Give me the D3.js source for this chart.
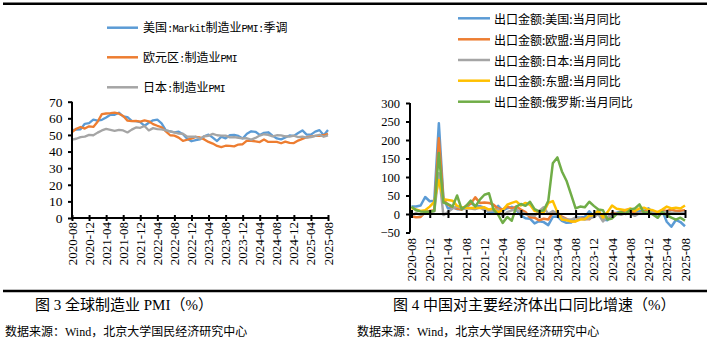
<!DOCTYPE html>
<html><head><meta charset="utf-8">
<script src="https://cdn.jsdelivr.net/npm/d3@7"></script>
<style>html,body{margin:0;padding:0;background:#fff;}svg{display:block;}</style>
</head><body>
<svg id="c" width="713" height="339"></svg>
<script>
// ---------- DATA ----------
const months = d3.range(61).map(i => { const m = 7 + i; const y = 2020 + Math.floor(m / 12); return y + "-" + String(m % 12 + 1).padStart(2, "0"); });
const tickIdx = d3.range(0, 61, 4);

const pmiNames = ["美国:Markit制造业PMI:季调", "欧元区:制造业PMI", "日本:制造业PMI"];
const pmiUS = [53.1,53.2,53.4,56.7,57.1,59.2,58.6,59.1,60.5,62.1,62.1,63.4,61.1,60.7,58.4,58.3,57.7,55.5,57.3,58.8,59.2,57.0,52.7,52.2,51.5,52.0,50.4,47.7,46.2,46.9,47.3,49.2,50.2,48.4,46.3,49.0,47.9,49.8,50.0,49.4,47.9,50.7,52.2,51.9,50.0,51.3,51.6,49.6,47.9,47.3,48.5,49.7,49.4,51.2,52.7,50.2,50.2,52.0,52.9,49.8,53.0];
const pmiEZ = [51.7,53.7,54.8,53.8,55.2,54.8,57.9,62.5,62.9,63.1,63.4,62.8,61.4,58.6,58.3,58.4,58.0,58.7,58.2,56.5,55.5,54.6,52.1,49.8,49.6,48.4,46.4,47.1,47.8,48.8,48.5,47.3,45.8,44.8,43.4,42.7,43.5,43.4,43.1,44.2,44.4,46.6,46.5,46.1,45.7,47.3,45.8,45.8,45.8,45.0,46.0,45.2,45.1,46.6,47.6,48.6,49.0,49.4,49.5,49.8,50.7];
const pmiJP = [47.2,47.7,48.7,49.0,50.0,49.8,51.4,52.7,53.6,53.0,52.4,53.0,52.7,51.5,53.2,54.5,54.3,55.4,52.7,54.1,53.5,53.3,52.7,52.1,51.5,50.8,50.7,49.0,48.9,48.9,47.7,49.2,49.5,50.6,49.8,49.6,49.6,48.5,48.7,48.3,47.9,48.0,47.2,48.2,49.6,50.4,50.0,49.1,49.8,49.7,49.2,49.0,49.6,48.7,49.0,48.4,48.7,49.4,50.1,48.9,49.7];
const pmiTicks = [0,10,20,30,40,50,60,70];

const expNames = ["出口金额:美国:当月同比", "出口金额:欧盟:当月同比", "出口金额:日本:当月同比", "出口金额:东盟:当月同比", "出口金额:俄罗斯:当月同比"];
const expUS = [20,20.5,23,46,34.5,36,245,43,15,18,13,13,15.6,30,22,21,17,3,5,22,9,15.7,19.3,11,-3.8,-11.6,-12.6,-25.4,-19.5,-22,-30,-7.7,-6.5,-18.2,-23.7,-23.1,-9.5,-9.3,-8.2,7.3,-6.9,10,-15,-16.7,2,3.6,6.6,8.1,4.9,2.2,8.1,8,15.6,2,-10,9.1,-21,-34.5,-16.1,-21.7,-33.1];
const expEU = [-6,-9,-8,5,8,10,205,38,25,18,15,12,22,28,45,30,31,30,25,15,12,20,15,20,12,5,-9,-10,-17,-13,-15,3,4,-7,-13,-20.6,-19.6,-11.6,-12.6,-14.5,-0.8,0,-5,-12,3.6,1,4,11,13,1,1,7,9,3,1,10,8,12,8,9,10];
const expJP = [-3,2,-2,1,5,8,110,-3,5,15,20,15,15,15,13,18,10,8,10,12,-6,5,10,12,5,0,-3,-5,8,18,0,8,0,-10,-15,-15,-10,-12,-15,-12,-8,0,-20,-8,0,0,-2,3,2,-5,2,3,6,5,0,5,6,4,3,2,5];
const expASEAN = [16,12,8,10,20,33,92,40,38,36,22,18,16,16,17,16,18,12,15,5,10,25,30,34,23,30,25,8,7,5,30,35,5,-15,-17,-20,-20,-15,-14,-5,-3,10,-10,5,23,14,12,10,15,8,15,17,12,10,5,12,20,15,17,15,23];
const expRU = [20,10,7,6,6,8,165,31,27,20,50,13,22,36,20,39,52,56,12,-2,-24,-8,-18,20,27,22,33,13,7,10,35,137,153,115,90,53,15,20,18,33,22,12,10,-15,-12,0,5,0,12,15,26,3,5,-2,-10,5,-3,-10,-15,-10,-18];
const expTicks = [-50,0,50,100,150,200,250,300];

const captions = ["图 3 全球制造业 PMI（%）", "图 4 中国对主要经济体出口同比增速（%）"];
const sourceText = "数据来源：Wind，北京大学国民经济研究中心";

// ---------- STYLE ----------
const colors = ["#5B9BD5", "#ED7D31", "#A5A5A5", "#FFC000", "#70AD47"];
const serif = "'Liberation Serif','Times New Roman','Noto Sans CJK SC',serif";
const cjk = "'Noto Sans CJK SC','Liberation Sans',sans-serif";

const svg = d3.select("#c");

// frame lines
svg.append("line").attr("x1", 3).attr("x2", 707).attr("y1", 3.8).attr("y2", 3.8).attr("stroke", "#000").attr("stroke-width", 2.5);
svg.append("line").attr("x1", 3).attr("x2", 707).attr("y1", 291).attr("y2", 291).attr("stroke", "#000").attr("stroke-width", 2.5);

// ---------- LEFT CHART ----------
const xL = d3.scaleLinear().domain([0, 60]).range([72, 328]);
const yL = d3.scaleLinear().domain([0, 70]).range([218, 101.7]);
const gL = svg.append("g");

[pmiUS, pmiEZ, pmiJP].forEach((s, k) => {
  gL.append("path").datum(s)
    .attr("d", d3.line().x((d, i) => xL(i)).y(d => yL(d)))
    .attr("fill", "none").attr("stroke", colors[k]).attr("stroke-width", 2.3)
    .attr("stroke-linejoin", "round");
});

// y axis
const yAxL = gL.append("g").attr("transform", `translate(${xL(0)},0)`)
  .call(d3.axisLeft(yL).tickValues(pmiTicks).tickSize(4).tickPadding(5));
yAxL.attr("font-family", serif);
yAxL.select(".domain").attr("stroke-width", 2).attr("d", `M0,${yL(0)}V${yL(70)}`);
yAxL.selectAll(".tick line").attr("stroke-width", 2);
yAxL.selectAll("text").attr("font-family", serif).attr("font-size", 13.5).attr("fill", "#000").attr("x", -9.5);

// x axis
const xAxL = gL.append("g").attr("transform", `translate(0,${yL(0)})`)
  .call(d3.axisBottom(xL).tickValues(tickIdx).tickSize(3).tickFormat(""));
xAxL.select(".domain").attr("stroke-width", 2).attr("d", `M${xL(0)},0H${xL(60)}`);
xAxL.selectAll(".tick line").attr("stroke-width", 2).attr("y1", -3).attr("y2", 3);
tickIdx.forEach(i => {
  gL.append("text").attr("transform", `translate(${xL(i)},222) rotate(-90)`)
    .attr("text-anchor", "end").attr("dominant-baseline", "central")
    .attr("font-family", serif).attr("font-size", 13).text(months[i]);
});

// left legend
const legLy = [27.7, 57.3, 87.3];
pmiNames.forEach((n, k) => {
  svg.append("line").attr("x1", 107).attr("x2", 138).attr("y1", legLy[k]).attr("y2", legLy[k])
    .attr("stroke", colors[k]).attr("stroke-width", 2.5);
  const t = svg.append("text").attr("x", 143).attr("y", legLy[k] + 4.5);
  n.split(/([\x20-\x7e]+)/).filter(p => p.length).forEach(p => {
    const ascii = /^[\x20-\x7e]+$/.test(p);
    const ts = t.append("tspan").text(p)
      .attr("font-family", ascii ? "'Liberation Mono','DejaVu Sans Mono',monospace" : cjk)
      .attr("font-size", ascii ? 10.5 : 12);
    if (ascii) ts.attr("letter-spacing", -0.8);
  });
});

// ---------- RIGHT CHART ----------
const xR = d3.scaleLinear().domain([0, 60]).range([411.5, 685]);
const yR = d3.scaleLinear().domain([-50, 300]).range([232.5, 103]);
const gR = svg.append("g");

[expUS, expEU, expJP, expASEAN, expRU].forEach((s, k) => {
  gR.append("path").datum(s)
    .attr("d", d3.line().x((d, i) => xR(i)).y(d => yR(d)))
    .attr("fill", "none").attr("stroke", colors[k]).attr("stroke-width", 2.5)
    .attr("stroke-linejoin", "round");
});

const yAxR = gR.append("g").attr("transform", `translate(410,0)`)
  .call(d3.axisLeft(yR).tickValues(expTicks).tickSize(4).tickPadding(5));
yAxR.attr("font-family", serif);
yAxR.select(".domain").attr("stroke-width", 2).attr("d", `M0,${yR(-50)}V${yR(300)}`);
yAxR.selectAll(".tick line").attr("stroke-width", 2);
yAxR.selectAll("text").attr("font-family", serif).attr("font-size", 12.5).attr("fill", "#000").attr("x", -10);

const xAxR = gR.append("g").attr("transform", `translate(0,${yR(0)})`)
  .call(d3.axisBottom(xR).tickValues(tickIdx).tickSize(4).tickFormat(""));
xAxR.select(".domain").attr("stroke-width", 2).attr("d", `M410,0H${xR(60)}`);
xAxR.selectAll(".tick line").attr("stroke-width", 2).attr("y1", -4).attr("y2", 4);
tickIdx.forEach(i => {
  gR.append("text").attr("transform", `translate(${xR(i)},238) rotate(-90)`)
    .attr("text-anchor", "end").attr("dominant-baseline", "central")
    .attr("font-family", serif).attr("font-size", 13).text(months[i]);
});

// right legend
const legRy = [18.3, 39.3, 60, 80.7, 101.7];
expNames.forEach((n, k) => {
  svg.append("line").attr("x1", 458).attr("x2", 490).attr("y1", legRy[k]).attr("y2", legRy[k])
    .attr("stroke", colors[k]).attr("stroke-width", 2.5);
  svg.append("text").attr("x", 494).attr("y", legRy[k]).attr("dominant-baseline", "central")
    .attr("font-family", cjk).attr("font-size", 12).text(n);
});

// ---------- CAPTIONS ----------
svg.append("text").attr("x", 35).attr("y", 309.5).attr("font-family", serif).attr("font-size", 15).text(captions[0]);
svg.append("text").attr("x", 393).attr("y", 309.5).attr("font-family", serif).attr("font-size", 15).text(captions[1]);
svg.append("text").attr("x", 5).attr("y", 335.5).attr("font-family", serif).attr("font-size", 12).text(sourceText);
svg.append("text").attr("x", 357).attr("y", 335.5).attr("font-family", serif).attr("font-size", 12).text(sourceText);
</script>
</body></html>
